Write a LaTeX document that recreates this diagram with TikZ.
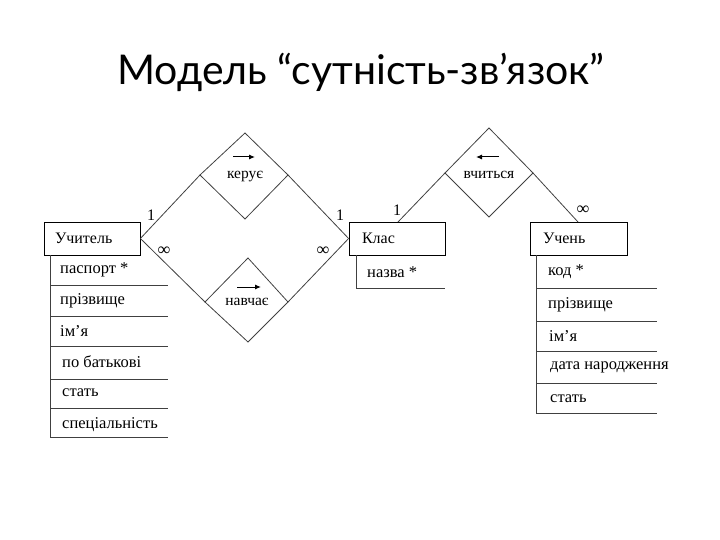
\documentclass[tikz,border=0pt]{standalone}
\usepackage{fontspec}
\usetikzlibrary{arrows.meta}
\setmainfont{Liberation Serif}
\newfontfamily\titlefont{Lato}
\begin{document}
\begin{tikzpicture}[x=1pt,y=-1pt,
  ln/.style={draw=black!75, line width=0.8pt},
  entity/.style={draw=black, line width=0.8pt, minimum height=33pt, inner ysep=0pt, inner xsep=11pt, text width=74pt, align=left, font=\fontsize{16}{16}\selectfont},
  attr/.style={anchor=west, inner sep=0pt, font=\fontsize{16.5}{16.5}\selectfont},
  card/.style={inner sep=0pt, font=\fontsize{16}{16}\selectfont},
  inf/.style={inner sep=0pt, font=\fontsize{18}{18}\selectfont},
  rel/.style={inner sep=0pt, font=\fontsize{15.5}{15.5}\selectfont},
  arr/.style={-{Latex[length=6pt,width=5pt]}, line width=1pt}
]
\useasboundingbox (0,0) rectangle (720,540);
\node[font=\titlefont\fontsize{41}{41}\selectfont, inner sep=0pt] (title) at (361,72) {Модель “сутність-зв’язок”};

% entities
\node[entity] (uch) at (92,238.5) {Учитель};
\node[entity, inner xsep=13pt, text width=70pt] (klas) at (397,238.5) {Клас};
\node[entity, inner xsep=13pt, text width=71pt] (uchen) at (578.5,238.5) {Учень};

% diamonds as coordinates
\coordinate (kT) at (245,133); \coordinate (kL) at (200,175); \coordinate (kR) at (288,175); \coordinate (kB) at (245,219);
\coordinate (nT) at (248,258); \coordinate (nL) at (205,302); \coordinate (nR) at (288,302); \coordinate (nB) at (248,342);
\coordinate (vT) at (489,128); \coordinate (vL) at (445,173); \coordinate (vR) at (533,173); \coordinate (vB) at (489,217);
\draw[ln] (kT) -- (kR) -- (kB) -- (kL) -- cycle;
\draw[ln] (nT) -- (nR) -- (nB) -- (nL) -- cycle;
\draw[ln] (vT) -- (vR) -- (vB) -- (vL) -- cycle;

\draw[ln] (uch.east) -- (kL);
\draw[ln] (uch.east) -- (nL);
\draw[ln] (kR) -- (klas.west);
\draw[ln] (nR) -- (klas.west);
\coordinate (klasTop) at (398,222);
\coordinate (uchenTop) at (578,222);
\draw[ln] (vL) -- (klasTop);
\draw[ln] (vR) -- (uchenTop);

% relation labels and arrows
\node[rel] (keruye) at (245,177) {керує};
\coordinate (ka1) at (233,157); \coordinate (ka2) at (255,157);
\draw[arr] (ka1) -- (ka2);
\node[rel] (navchaye) at (247,302) {навчає};
\coordinate (na1) at (237,287); \coordinate (na2) at (261,287);
\draw[arr] (na1) -- (na2);
\node[rel] (vchytsya) at (489,175) {вчиться};
\coordinate (va1) at (499,157); \coordinate (va2) at (476,157);
\draw[arr] (va1) -- (va2);

% cardinalities
\node[card] (c1) at (151,215) {1};
\node[inf] (c2) at (164,251) {∞};
\node[card] (c3) at (340,215) {1};
\node[inf] (c4) at (323,251) {∞};
\node[card] (c5) at (397,210) {1};
\node[inf] (c6) at (583,210) {∞};

% Учитель attributes
\draw[ln] (50,255) -- (50,437) -- (168,437);
\foreach \y in {285,316,346,379,408} \draw[ln] (50,\y) -- (168,\y);
\node[attr] (a1) at (60,270) {паспорт *};
\node[attr] (a2) at (60,301) {прізвище};
\node[attr] (a3) at (60,331) {ім’я};
\node[attr] (a4) at (62,362) {по батькові};
\node[attr] (a5) at (62,393) {стать};
\node[attr] (a6) at (62,425) {спеціальність};

% Клас attributes
\draw[ln] (356,255) -- (356,288) -- (445,288);
\node[attr] (b1) at (367,272) {назва *};

% Учень attributes
\draw[ln] (536,255) -- (536,413) -- (657,413);
\foreach \y in {288,321,351,383} \draw[ln] (536,\y) -- (657,\y);
\node[attr] (d1) at (548,272) {код *};
\node[attr] (d2) at (548,305) {прізвище};
\node[attr] (d3) at (549,336) {ім’я};
\node[attr] (d4) at (550,367) {дата народження};
\node[attr] (d5) at (550,399) {стать};
\end{tikzpicture}
\end{document}
